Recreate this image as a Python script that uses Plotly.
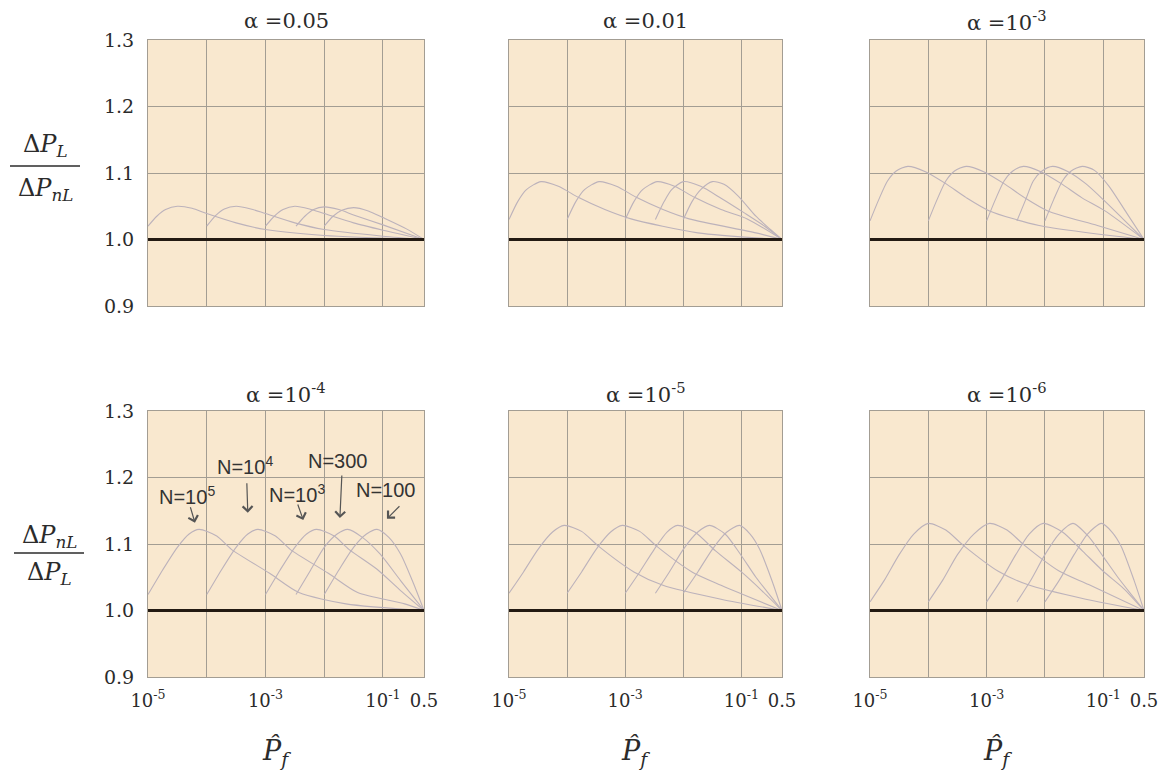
import numpy as np
import plotly.graph_objects as go

# ---------------- data ----------------
n_labels = ["N=10^5", "N=10^4", "N=10^3", "N=300", "N=100"]
alpha_titles = ["α =0.05", "α =0.01", "α =10<sup>-3</sup>",
                "α =10<sup>-4</sup>", "α =10<sup>-5</sup>", "α =10<sup>-6</sup>"]
y_ticks = [0.9, 1.0, 1.1, 1.2, 1.3]
x_tick_vals = [1e-5, 1e-4, 1e-3, 1e-2, 1e-1, 0.5]
x_tick_text = ["10<sup>-5</sup>", "", "10<sup>-3</sup>", "", "10<sup>-1</sup>", "0.5"]
baseline_pf = [1e-5, 0.5]
baseline_ratio = [1.0, 1.0]

# log10(P_f) and ratio for each curve (N = 1e5, 1e4, 1e3, 300, 100)
log10_pf_a005 = [
    [-5, -4.85, -4.7, -4.5, -4.25, -4.0, -3.5, -3.0, -2.0, -0.301],
    [-4, -3.85, -3.7, -3.5, -3.25, -3.0, -2.5, -2.0, -1.0, -0.301],
    [-3, -2.85, -2.7, -2.5, -2.25, -2.0, -1.5, -1.0, -0.301],
    [-2.48, -2.33, -2.18, -2.0, -1.75, -1.5, -1.0, -0.301],
    [-2.0, -1.85, -1.7, -1.5, -1.25, -1.0, -0.6, -0.301],
]
ratio_a005 = [
    [1.020, 1.035, 1.045, 1.050, 1.047, 1.039, 1.025, 1.015, 1.006, 1.0],
    [1.020, 1.036, 1.046, 1.050, 1.046, 1.039, 1.025, 1.015, 1.005, 1.0],
    [1.020, 1.035, 1.045, 1.050, 1.046, 1.039, 1.025, 1.014, 1.0],
    [1.020, 1.035, 1.045, 1.049, 1.045, 1.037, 1.022, 1.0],
    [1.020, 1.035, 1.044, 1.048, 1.043, 1.033, 1.016, 1.0],
]
log10_pf_a001 = [
    [-5, -4.85, -4.7, -4.45, -4.15, -3.8, -3.35, -2.9, -1.75, -0.301],
    [-4, -3.85, -3.7, -3.45, -3.15, -2.8, -2.35, -1.9, -0.75, -0.301],
    [-3, -2.85, -2.7, -2.45, -2.15, -1.8, -1.35, -0.9, -0.301],
    [-2.48, -2.33, -2.2, -2.0, -1.7, -1.35, -0.95, -0.6, -0.301],
    [-2.0, -1.85, -1.7, -1.5, -1.3, -1.05, -0.75, -0.5, -0.301],
]
ratio_a001 = [
    [1.030, 1.057, 1.075, 1.087, 1.080, 1.063, 1.045, 1.031, 1.010, 1.0],
    [1.030, 1.057, 1.075, 1.087, 1.080, 1.063, 1.045, 1.031, 1.010, 1.0],
    [1.030, 1.057, 1.075, 1.087, 1.080, 1.063, 1.045, 1.031, 1.0],
    [1.030, 1.057, 1.075, 1.087, 1.080, 1.062, 1.040, 1.020, 1.0],
    [1.030, 1.057, 1.075, 1.087, 1.083, 1.065, 1.035, 1.015, 1.0],
]
log10_pf_a1e3 = [
    [-5, -4.85, -4.7, -4.55, -4.35, -4.05, -3.7, -3.35, -2.95, -2.1, -0.301],
    [-4, -3.85, -3.7, -3.55, -3.35, -3.05, -2.7, -2.35, -1.95, -1.1, -0.301],
    [-3, -2.85, -2.7, -2.55, -2.37, -2.07, -1.72, -1.37, -0.97, -0.301],
    [-2.48, -2.33, -2.2, -2.05, -1.87, -1.6, -1.3, -1.0, -0.65, -0.301],
    [-2.0, -1.85, -1.7, -1.55, -1.36, -1.15, -0.9, -0.6, -0.301],
]
ratio_a1e3 = [
    [1.028, 1.060, 1.088, 1.103, 1.110, 1.102, 1.084, 1.063, 1.043, 1.021, 1.0],
    [1.028, 1.060, 1.088, 1.103, 1.110, 1.102, 1.084, 1.063, 1.043, 1.021, 1.0],
    [1.028, 1.060, 1.088, 1.103, 1.110, 1.102, 1.084, 1.063, 1.043, 1.0],
    [1.028, 1.060, 1.088, 1.103, 1.110, 1.102, 1.084, 1.060, 1.030, 1.0],
    [1.028, 1.060, 1.088, 1.103, 1.110, 1.104, 1.080, 1.040, 1.0],
]
log10_pf_a1e4 = [
    [-5, -4.75, -4.5, -4.3, -4.13, -3.83, -3.58, -2.93, -2.43, -1.63, -0.301],
    [-4, -3.75, -3.5, -3.3, -3.13, -2.83, -2.58, -1.93, -1.43, -0.63, -0.301],
    [-3, -2.75, -2.5, -2.3, -2.13, -1.83, -1.58, -1.1, -0.7, -0.301],
    [-2.48, -2.23, -2.0, -1.78, -1.6, -1.35, -1.05, -0.7, -0.301],
    [-2.0, -1.75, -1.5, -1.28, -1.1, -0.9, -0.7, -0.5, -0.301],
]
ratio_a1e4 = [
    [1.024, 1.061, 1.095, 1.115, 1.122, 1.112, 1.092, 1.056, 1.027, 1.010, 1.0],
    [1.024, 1.061, 1.095, 1.115, 1.122, 1.112, 1.092, 1.056, 1.027, 1.010, 1.0],
    [1.024, 1.061, 1.095, 1.115, 1.122, 1.112, 1.092, 1.062, 1.030, 1.0],
    [1.024, 1.061, 1.095, 1.115, 1.122, 1.110, 1.085, 1.045, 1.0],
    [1.024, 1.061, 1.095, 1.115, 1.122, 1.110, 1.085, 1.045, 1.0],
]
log10_pf_a1e5 = [
    [-5, -4.75, -4.5, -4.25, -4.05, -3.75, -3.45, -2.85, -2.35, -1.35, -0.301],
    [-4, -3.75, -3.5, -3.25, -3.05, -2.75, -2.45, -1.85, -1.35, -0.301],
    [-3, -2.75, -2.5, -2.28, -2.1, -1.8, -1.45, -1.0, -0.65, -0.301],
    [-2.48, -2.24, -2.0, -1.75, -1.55, -1.28, -1.02, -0.75, -0.5, -0.301],
    [-2.0, -1.75, -1.5, -1.25, -1.03, -0.85, -0.69, -0.47, -0.301],
]
ratio_a1e5 = [
    [1.026, 1.058, 1.092, 1.118, 1.128, 1.119, 1.096, 1.058, 1.038, 1.017, 1.0],
    [1.026, 1.058, 1.092, 1.118, 1.128, 1.119, 1.096, 1.058, 1.038, 1.0],
    [1.026, 1.058, 1.092, 1.118, 1.128, 1.118, 1.090, 1.058, 1.030, 1.0],
    [1.026, 1.058, 1.092, 1.118, 1.128, 1.115, 1.085, 1.050, 1.022, 1.0],
    [1.026, 1.058, 1.092, 1.118, 1.128, 1.115, 1.093, 1.044, 1.0],
]
log10_pf_a1e6 = [
    [-5, -4.75, -4.5, -4.25, -4.0, -3.7, -3.4, -2.8, -2.3, -1.3, -0.301],
    [-4, -3.75, -3.5, -3.22, -2.95, -2.65, -2.35, -1.75, -1.25, -0.301],
    [-3, -2.75, -2.5, -2.27, -2.03, -1.7, -1.35, -1.0, -0.65, -0.301],
    [-2.48, -2.24, -2.0, -1.76, -1.52, -1.25, -1.0, -0.75, -0.5, -0.301],
    [-2.0, -1.75, -1.5, -1.27, -1.03, -0.85, -0.69, -0.47, -0.301],
]
ratio_a1e6 = [
    [1.013, 1.046, 1.084, 1.115, 1.131, 1.121, 1.098, 1.059, 1.039, 1.017, 1.0],
    [1.013, 1.046, 1.084, 1.115, 1.131, 1.121, 1.098, 1.059, 1.039, 1.0],
    [1.013, 1.046, 1.084, 1.115, 1.131, 1.118, 1.089, 1.059, 1.033, 1.0],
    [1.013, 1.046, 1.084, 1.115, 1.131, 1.111, 1.081, 1.050, 1.022, 1.0],
    [1.013, 1.046, 1.084, 1.115, 1.131, 1.118, 1.096, 1.045, 1.0],
]

panels = [
    (log10_pf_a005, ratio_a005), (log10_pf_a001, ratio_a001), (log10_pf_a1e3, ratio_a1e3),
    (log10_pf_a1e4, ratio_a1e4), (log10_pf_a1e5, ratio_a1e5), (log10_pf_a1e6, ratio_a1e6),
]

# ---------------- layout constants ----------------
W, H = 1171, 778
col_domains = [[148 / W, 424 / W], [509 / W, 782 / W], [870 / W, 1144 / W]]
row_domains = [[1 - 306 / H, 1 - 40 / H], [1 - 677 / H, 1 - 411 / H]]

SERIF = "DejaVu Serif, Liberation Serif, serif"
SANS = "Liberation Sans, Arial, sans-serif"
TXT = "#2b2b2b"
GRID = "#a39d93"
CURVE = "#bcb2bb"
BG = "#f9e8cf"

fig = go.Figure()
layout = dict(
    width=W, height=H, margin=dict(l=0, r=0, t=0, b=0, autoexpand=False),
    paper_bgcolor="white", plot_bgcolor=BG, showlegend=False,
    annotations=[], shapes=[],
)

for i, (lx_list, r_list) in enumerate(panels):
    row, col = divmod(i, 3)
    k = i + 1
    xa = "x" if k == 1 else f"x{k}"
    ya = "y" if k == 1 else f"y{k}"
    for lx, r, name in zip(lx_list, r_list, n_labels):
        fig.add_trace(go.Scatter(
            x=10 ** np.array(lx, dtype=float), y=r, mode="lines", name=name,
            line=dict(color=CURVE, width=1.1, shape="spline", smoothing=0.7),
            xaxis=xa, yaxis=ya, hoverinfo="skip"))
    fig.add_trace(go.Scatter(
        x=baseline_pf, y=baseline_ratio, mode="lines", name="1.0",
        line=dict(color="#231a12", width=3.2), xaxis=xa, yaxis=ya, hoverinfo="skip"))

    layout[f"xaxis{'' if k == 1 else k}"] = dict(
        type="log", range=[-5, np.log10(0.5)], domain=col_domains[col],
        anchor=ya, tickvals=x_tick_vals, ticktext=x_tick_text, automargin=False,
        showgrid=True, gridcolor=GRID, gridwidth=1, zeroline=False,
        showline=True, mirror=True, linecolor=GRID, linewidth=1, ticks="",
        showticklabels=(row == 1), ticklabelstandoff=7,
        tickfont=dict(family=SERIF, size=18, color=TXT))
    layout[f"yaxis{'' if k == 1 else k}"] = dict(
        range=[0.9, 1.3], domain=row_domains[row], anchor=xa, automargin=False,
        tickvals=y_ticks, tickformat=".1f",
        showgrid=True, gridcolor=GRID, gridwidth=1, zeroline=False,
        showline=True, mirror=True, linecolor=GRID, linewidth=1, ticks="",
        showticklabels=(col == 0), ticklabelstandoff=9,
        tickfont=dict(family=SERIF, size=19, color=TXT))

    # panel title
    cx = (col_domains[col][0] + col_domains[col][1]) / 2
    ty = 1 - (21 / H) if row == 0 else 1 - (393 / H)
    layout["annotations"].append(dict(
        text=alpha_titles[i], x=cx, y=ty, xref="paper", yref="paper",
        showarrow=False, xanchor="center", yanchor="middle",
        font=dict(family=SERIF, size=21, color=TXT)))
    # x axis title for bottom row
    if row == 1:
        layout["annotations"].append(dict(
            text="<i>P\u0302</i><sub><i>f</i></sub>", x=cx - 10 / W, y=1 - 752 / H,
            xref="paper", yref="paper", showarrow=False,
            xanchor="center", yanchor="middle",
            font=dict(family=SERIF, size=27, color=TXT)))

# y-axis fraction labels
def frac(num, den, y_num, y_bar, y_den, x0, x1):
    xc = (x0 + x1) / 2 / W
    layout["annotations"].append(dict(text=num, x=xc, y=1 - y_num / H, xref="paper", yref="paper",
                                      showarrow=False, xanchor="center", yanchor="middle",
                                      font=dict(family=SERIF, size=24, color=TXT)))
    layout["annotations"].append(dict(text=den, x=xc, y=1 - y_den / H, xref="paper", yref="paper",
                                      showarrow=False, xanchor="center", yanchor="middle",
                                      font=dict(family=SERIF, size=24, color=TXT)))
    layout["shapes"].append(dict(type="line", xref="paper", yref="paper",
                                 x0=x0 / W, x1=x1 / W, y0=1 - y_bar / H, y1=1 - y_bar / H,
                                 line=dict(color=TXT, width=1.5)))

PL = "Δ<i>P</i><sub><i>L</i></sub>"
PNL = "Δ<i>P</i><sub><i>nL</i></sub>"
frac(PL, PNL, 146, 166, 190, 10, 80)
frac(PNL, PL, 536, 553, 573, 14, 84)

# N labels with arrows in the alpha = 1e-4 panel
n_text = ["N=10<sup>5</sup>", "N=10<sup>4</sup>", "N=10<sup>3</sup>", "N=300", "N=100"]
n_text_px = [(187, 495), (245, 465), (297, 493), (338, 461), (386, 490)]
arrow_tip = [(6.3e-5, 1.132), (5.0e-4, 1.147), (4.4e-3, 1.136), (1.85e-2, 1.139), (1.17e-1, 1.138)]
arrow_off = [(-5, -17), (-1, -31), (-6, -17), (2, -44), (14, -14)]
for t, (px, py), (tx, tyv), (ax, ay) in zip(n_text, n_text_px, arrow_tip, arrow_off):
    layout["annotations"].append(dict(
        text=t, x=px / W, y=1 - py / H, xref="paper", yref="paper", showarrow=False,
        xanchor="center", yanchor="middle", font=dict(family=SANS, size=20, color="#333")))
    layout["annotations"].append(dict(
        text="", x=np.log10(tx), y=tyv, xref="x4", yref="y4", showarrow=True,
        ax=ax, ay=ay, arrowhead=4, arrowsize=1.6, arrowwidth=1.2, arrowcolor="#555"))

fig.update_layout(**layout)
fig.write_html("out.html", config={"displayModeBar": False},
               post_script="document.body.style.margin='0';document.body.style.padding='0';")
